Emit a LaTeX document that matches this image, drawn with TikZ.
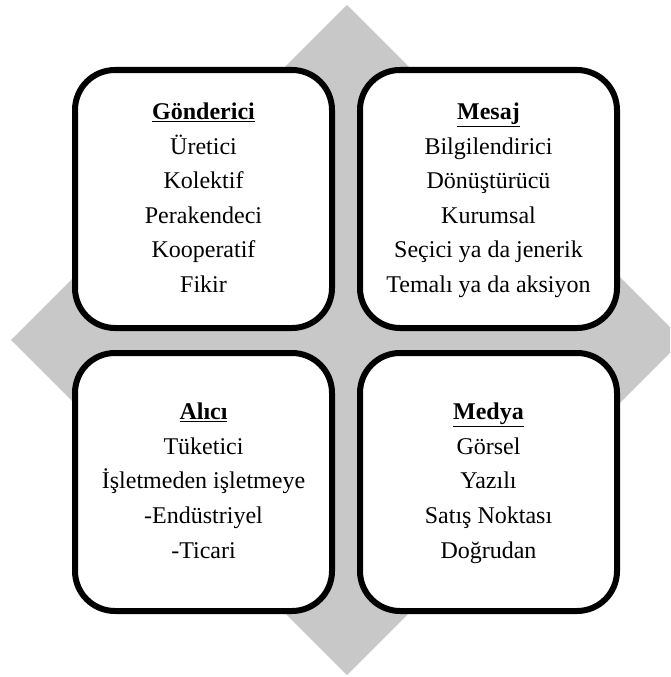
\documentclass[tikz,border=0pt]{standalone}
\usepackage{fontspec}
\setmainfont{Liberation Serif}
\definecolor{diamondgray}{RGB}{200,200,200}
\tikzset{
  quadbox/.style={draw=black, fill=white, line width=6pt, rounded corners=40pt,
    minimum width=257pt, minimum height=258pt, inner sep=0pt, align=center,
    font=\fontsize{24}{34.6}\selectfont},
}
\newcommand{\boxtitle}[1]{\strut\textbf{\underline{#1}}}
\newcommand{\lastline}[1]{#1\strut}
\begin{document}
\begin{tikzpicture}[x=1pt, y=-1pt]
  \useasboundingbox (0,0) rectangle (670,677);
  \clip (0,0) rectangle (670,677);
  % grey diamond behind the four boxes
  \fill[diamondgray] (347,5) -- (683,340) -- (347,675) -- (11,340) -- cycle;
  % the four quadrants
  \node[quadbox] (sender) at (203.5,199)
    {\boxtitle{Gönderici}\\Üretici\\Kolektif\\Perakendeci\\Kooperatif\\\lastline{Fikir}};
  \node[quadbox] (message) at (488.5,199)
    {\boxtitle{Mesaj}\\Bilgilendirici\\Dönüştürücü\\Kurumsal\\Seçici ya da jenerik\\\lastline{Temalı ya da aksiyon}};
  \node[quadbox] (receiver) at (203.5,482)
    {\boxtitle{Alıcı}\\Tüketici\\İşletmeden işletmeye\\-Endüstriyel\\\lastline{-Ticari}};
  \node[quadbox] (media) at (488.5,482)
    {\boxtitle{Medya}\\Görsel\\Yazılı\\Satış Noktası\\\lastline{Doğrudan}};
\end{tikzpicture}
\end{document}
